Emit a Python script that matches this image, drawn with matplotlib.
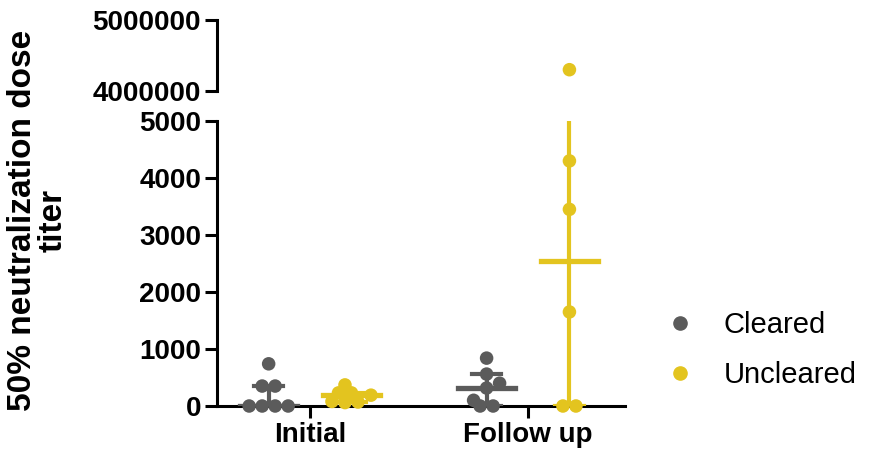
import numpy as np
import matplotlib.pyplot as plt
from matplotlib.lines import Line2D

plt.rcParams['font.family'] = ['Liberation Sans', 'DejaVu Sans']

# Titer values
groups = ['Initial', 'Follow up']
initial_cleared = [740, 350, 350, 0, 0, 0, 0]
initial_uncleared = [370, 230, 230, 190, 80, 70, 60]
followup_cleared = [840, 560, 400, 315, 100, 0, 0]
followup_uncleared = [4300000, 4300, 3450, 1650, 0, 0]

series = {
    'Cleared': [initial_cleared, followup_cleared],
    'Uncleared': [initial_uncleared, followup_uncleared],
}
colors = {'Cleared': '#5b5b5b', 'Uncleared': '#e3c41f'}
offsets = {'Cleared': -0.19, 'Uncleared': 0.19}

W, H = 870, 457
fig = plt.figure(figsize=(W / 100, H / 100), dpi=100)
ax = fig.add_axes([217 / W, 1 - 406 / H, (625 - 217) / W, (406 - 121) / H])
ax_top = fig.add_axes([217 / W, 1 - 91 / H, (625 - 217) / W, (91 - 20) / H], sharex=ax)

low_max = 5000
xlim = (-0.427, 1.445)
px_x = (625 - 217) / (xlim[1] - xlim[0])
px_y = (406 - 121) / low_max
dia = 13.0


def swarm(vals, center):
    # greedy beeswarm in pixel space, bottom row first
    order = np.argsort(vals)
    placed = []
    xs = np.zeros(len(vals))
    step = dia / 2
    cands = [0.0]
    for k in range(1, 12):
        cands += [k * step, -k * step]
    for i in order:
        y = vals[i] * px_y
        for c in cands:
            if all((c - px) ** 2 + (y - py) ** 2 >= (dia * 0.75) ** 2 for px, py in placed):
                placed.append((c, y))
                xs[i] = c
                break
    # centre rows of equal values, then the whole swarm
    for v in np.unique(vals):
        m = vals == v
        if m.sum() > 1:
            xs[m] -= xs[m].mean()
    xs -= (xs.min() + xs.max()) / 2
    return center + xs / px_x


for name, data in series.items():
    col = colors[name]
    for gi, vals in enumerate(data):
        vals = np.array(vals, dtype=float)
        center = gi + offsets[name]
        low = vals[vals <= low_max]
        high = vals[vals > low_max]
        xs = swarm(low, center)
        ax.scatter(xs, low, s=95, color=col, edgecolors='none', zorder=3, clip_on=False)
        if len(high):
            ax_top.scatter([center] * len(high), high, s=95, color=col,
                           edgecolors='none', zorder=3, clip_on=False)
        med = np.median(vals)
        q1, q3 = np.percentile(vals, [25, 75], method='weibull')
        hw_med, hw_cap = 0.13, 0.065
        ax.plot([center, center], [q1, min(q3, low_max)], color=col, lw=3, zorder=4,
                solid_capstyle='butt')
        if q3 <= low_max:
            ax.plot([center - hw_cap, center + hw_cap], [q3, q3], color=col, lw=3, zorder=4)
        ax.plot([center - hw_cap, center + hw_cap], [q1, q1], color=col, lw=3, zorder=4)
        ax.plot([center - hw_med, center + hw_med], [med, med], color=col, lw=3.8, zorder=4)

for a in (ax, ax_top):
    a.spines['top'].set_visible(False)
    a.spines['right'].set_visible(False)
    a.spines['left'].set_linewidth(2.2)
    a.tick_params(axis='y', length=8.5, width=2.2, labelsize=20, pad=3)

ax.spines['bottom'].set_linewidth(2.2)
ax.set_xlim(*xlim)
ax.set_ylim(0, low_max)
ax.set_yticks(range(0, 5001, 1000))
ax.set_yticklabels([str(v) for v in range(0, 5001, 1000)], fontweight='bold')
ax.set_xticks([0, 1])
ax.set_xticklabels(groups, fontsize=20, fontweight='bold')
ax.tick_params(axis='x', length=8.5, width=2.2, pad=3)

ax_top.set_ylim(4000000, 5000000)
ax_top.set_yticks([4000000, 5000000])
ax_top.set_yticklabels(['4000000', '5000000'], fontweight='bold')
ax_top.spines['bottom'].set_visible(False)
ax_top.tick_params(axis='x', bottom=False, labelbottom=False)
ax_top.patch.set_visible(False)

fig.text(38 / W, 1 - 220 / H, '50% neutralization dose\ntiter', rotation=90,
         ha='center', va='center', fontsize=24, fontweight='bold',
         multialignment='center', linespacing=1.0)

handles = [Line2D([], [], marker='o', ls='none', color=colors[n], markersize=9.5)
           for n in series]
fig.legend(handles, list(series), loc='upper left', bbox_to_anchor=(665 / W, 1 - 311 / H),
           frameon=False, fontsize=21, handlelength=1, handletextpad=1.0,
           labelspacing=0.75, borderpad=0, borderaxespad=0)

fig.savefig('out.png', dpi=100)
